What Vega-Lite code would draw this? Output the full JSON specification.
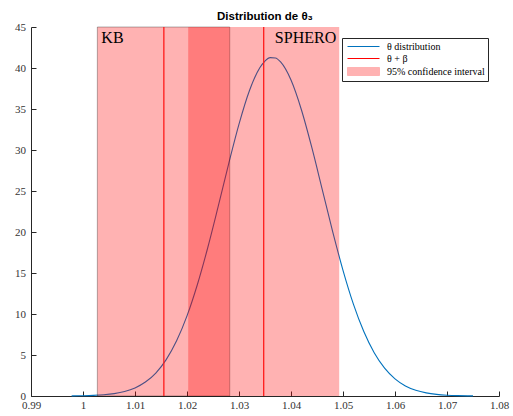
{
  "$schema": "https://vega.github.io/schema/vega-lite/v6.json",
  "width": 468,
  "height": 369,
  "autosize": {"type": "none"},
  "padding": {"left": 31, "top": 27, "right": 14, "bottom": 20},
  "background": "white",
  "title": {
    "text": "Distribution de θ₃",
    "font": "Liberation Sans",
    "fontSize": 11.5,
    "fontWeight": "bold",
    "color": "#000000",
    "anchor": "middle",
    "offset": -1
  },
  "datasets": {
    "curve": [
      {"x": 0.9978, "y": 0.0},
      {"x": 0.998, "y": 0.015},
      {"x": 1.000, "y": 0.034},
      {"x": 1.002, "y": 0.073},
      {"x": 1.004, "y": 0.149},
      {"x": 1.006, "y": 0.292},
      {"x": 1.008, "y": 0.548},
      {"x": 1.010, "y": 0.986},
      {"x": 1.012, "y": 1.70},
      {"x": 1.014, "y": 2.80},
      {"x": 1.016, "y": 4.44},
      {"x": 1.018, "y": 6.73},
      {"x": 1.020, "y": 9.77},
      {"x": 1.022, "y": 13.60},
      {"x": 1.024, "y": 18.11},
      {"x": 1.026, "y": 23.12},
      {"x": 1.028, "y": 28.29},
      {"x": 1.030, "y": 33.16},
      {"x": 1.032, "y": 37.23},
      {"x": 1.034, "y": 40.04},
      {"x": 1.035, "y": 40.85},
      {"x": 1.036, "y": 41.26},
      {"x": 1.037, "y": 41.22},
      {"x": 1.038, "y": 40.74},
      {"x": 1.040, "y": 38.53},
      {"x": 1.042, "y": 34.91},
      {"x": 1.044, "y": 30.31},
      {"x": 1.046, "y": 25.21},
      {"x": 1.048, "y": 20.08},
      {"x": 1.050, "y": 15.33},
      {"x": 1.052, "y": 11.21},
      {"x": 1.054, "y": 7.86},
      {"x": 1.056, "y": 5.27},
      {"x": 1.058, "y": 3.39},
      {"x": 1.060, "y": 2.09},
      {"x": 1.062, "y": 1.23},
      {"x": 1.064, "y": 0.70},
      {"x": 1.066, "y": 0.38},
      {"x": 1.068, "y": 0.196},
      {"x": 1.070, "y": 0.098},
      {"x": 1.072, "y": 0.046},
      {"x": 1.074, "y": 0.021},
      {"x": 1.075, "y": 0.014}
    ],
    "intervals": [
      {"name": "KB", "lo": 1.00276, "hi": 1.02822, "mid": 1.01555},
      {"name": "SPHERO", "lo": 1.02023, "hi": 1.04927, "mid": 1.03475}
    ]
  },
  "config": {
    "view": {"stroke": null},
    "axis": {
      "labelFont": "Liberation Serif",
      "labelFontSize": 11,
      "labelColor": "#333333",
      "domainColor": "#262626",
      "domainWidth": 1,
      "tickColor": "#262626",
      "tickSize": -5,
      "grid": false,
      "title": null
    },
    "legend": {
      "labelFont": "Liberation Serif",
      "labelFontSize": 10,
      "labelColor": "#000000"
    }
  },
  "layer": [
    {
      "data": {"name": "curve"},
      "mark": {"type": "line", "strokeWidth": 1.1, "interpolate": "monotone"},
      "encoding": {
        "x": {
          "field": "x", "type": "quantitative",
          "scale": {"domain": [0.99, 1.08], "nice": false, "zero": false},
          "axis": {
            "values": [0.99, 1.0, 1.01, 1.02, 1.03, 1.04, 1.05, 1.06, 1.07, 1.08],
            "format": ".2~f",
            "labelPadding": 8.5,
            "labelFlush": false,
            "labelOverlap": false
          }
        },
        "y": {
          "field": "y", "type": "quantitative",
          "scale": {"domain": [0, 45], "nice": false},
          "axis": {
            "values": [0, 5, 10, 15, 20, 25, 30, 35, 40, 45],
            "labelPadding": 10.5,
            "labelFlush": false
          }
        },
        "color": {
          "datum": "θ distribution",
          "type": "nominal",
          "scale": {
            "domain": ["θ distribution", "θ + β", "95% confidence interval"],
            "range": ["#0072BD", "#FF0000", "#FFB2B2"]
          },
          "legend": {
            "title": null,
            "orient": "none",
            "legendX": 311,
            "legendY": 11,
            "direction": "vertical",
            "strokeColor": "#262626",
            "fillColor": "white",
            "padding": 3,
            "cornerRadius": 0,
            "rowPadding": 1,
            "symbolSize": 100,
            "symbolOffset": 13,
            "labelOffset": 18,
            "labelLimit": 200,
            "encode": {
              "symbols": {
                "update": {
                  "shape": [
                    {"test": "datum.index === 2", "value": "M-3.2,-0.8H3.2V0.8H-3.2Z"},
                    {"value": "M-3.2,0H3.2"}
                  ],
                  "fill": [
                    {"test": "datum.index === 2", "value": "#FFB2B2"},
                    {"value": "transparent"}
                  ],
                  "stroke": [
                    {"test": "datum.index === 2", "value": "#999999"},
                    {"test": "datum.index === 1", "value": "#FF0000"},
                    {"value": "#0072BD"}
                  ],
                  "strokeWidth": {"value": 1},
                  "opacity": {"value": 1}
                }
              }
            }
          }
        }
      }
    },
    {
      "data": {"name": "intervals"},
      "mark": {"type": "rect", "fill": "#FF0000", "fillOpacity": 0.3, "stroke": "#000000", "strokeWidth": 1},
      "encoding": {
        "x": {"field": "lo", "type": "quantitative"},
        "x2": {"field": "hi"},
        "strokeOpacity": {
          "condition": {"test": "datum.name === 'KB'", "value": 0.3},
          "value": 0
        }
      }
    },
    {
      "data": {"name": "intervals"},
      "mark": {"type": "rule", "strokeWidth": 1.3, "stroke": "#FF1A1A", "opacity": 1},
      "encoding": {
        "x": {"field": "mid", "type": "quantitative"}
      }
    },
    {
      "data": {"name": "intervals"},
      "transform": [{"filter": "datum.name === 'KB'"}],
      "mark": {"type": "text", "align": "left", "baseline": "top", "dx": 4, "dy": 3, "font": "Liberation Serif", "fontSize": 16, "color": "#000000"},
      "encoding": {
        "x": {"field": "lo", "type": "quantitative"},
        "y": {"datum": 45, "type": "quantitative"},
        "text": {"field": "name"}
      }
    },
    {
      "data": {"name": "intervals"},
      "transform": [{"filter": "datum.name === 'SPHERO'"}],
      "mark": {"type": "text", "align": "right", "baseline": "top", "dx": -3, "dy": 3, "font": "Liberation Serif", "fontSize": 16, "color": "#000000"},
      "encoding": {
        "x": {"field": "hi", "type": "quantitative"},
        "y": {"datum": 45, "type": "quantitative"},
        "text": {"field": "name"}
      }
    }
  ]
}
